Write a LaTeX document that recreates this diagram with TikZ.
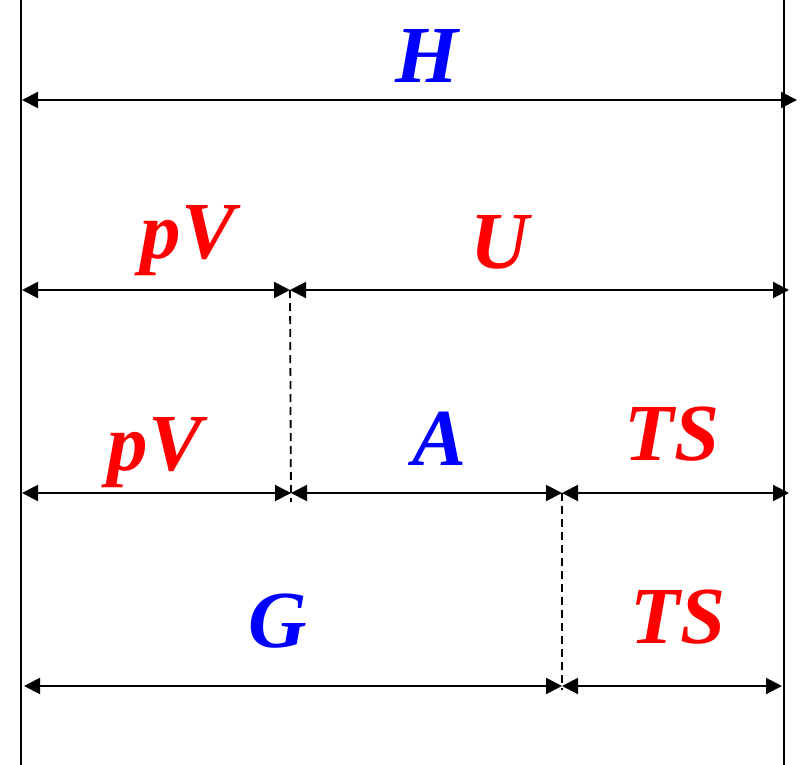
\documentclass[tikz,border=0pt]{standalone}
\usepackage{fontspec}
\setmainfont{Liberation Serif}
\usetikzlibrary{arrows.meta}
\definecolor{EnthalpyBlue}{RGB}{0, 0, 255}
\definecolor{TermRed}{RGB}{255, 0, 0}
\tikzset{
  dimline/.style={line width=2pt, {Triangle[length=16pt,width=16pt]}-{Triangle[length=16pt,width=16pt]}},
  cutline/.style={line width=1.8pt, dash pattern=on 8pt off 5pt},
  wall/.style={line width=2pt},
  qty/.style={font=\fontsize{81}{81}\selectfont\bfseries\itshape, anchor=base, inner sep=0pt},
}

\begin{document}
\begin{tikzpicture}[x=1pt,y=-1pt]
    \useasboundingbox (0,0) rectangle (800,765);
    % walls
    \draw[wall] (21,0) -- (21,765);
    \draw[wall] (784,0) -- (784,765);
    % end points of the bars
    \coordinate (hL) at (22,100);  \coordinate (hR) at (797,100);
    \coordinate (uL) at (22,290);  \coordinate (uM) at (290,290);  \coordinate (uR) at (789,290);
    \coordinate (aL) at (22,493);  \coordinate (aM) at (291,493);  \coordinate (aN) at (562,493);  \coordinate (aR) at (789,493);
    \coordinate (gL) at (24,686);  \coordinate (gN) at (562,686);  \coordinate (gR) at (782,686);
    \coordinate (cutA) at (291,502); \coordinate (cutG) at (562,690);
    % bars
    \draw[dimline] (hL) -- (hR);
    \draw[dimline] (uL) -- (uM);
    \draw[dimline] (uM) -- (uR);
    \draw[dimline] (aL) -- (aM);
    \draw[dimline] (aM) -- (aN);
    \draw[dimline] (aN) -- (aR);
    \draw[dimline] (gL) -- (gN);
    \draw[dimline] (gN) -- (gR);
    % dashed cuts
    \draw[cutline] (uM) -- (cutA);
    \draw[cutline] (aN) -- (cutG);
    % labels
    \node[qty, text=EnthalpyBlue] (labH) at (427,83) {H};
    \node[qty, text=TermRed] (labPV1) at (188,258) {pV};
    \node[qty, text=TermRed] (labU) at (500,268) {U};
    \node[qty, text=TermRed] (labPV2) at (155,470) {pV};
    \node[qty, text=EnthalpyBlue] (labA) at (440,465) {A};
    \node[qty, text=TermRed] (labTS1) at (672,460) {TS};
    \node[qty, text=EnthalpyBlue] (labG) at (278,647) {G};
    \node[qty, text=TermRed] (labTS2) at (678,643) {TS};
\end{tikzpicture}
\end{document}
